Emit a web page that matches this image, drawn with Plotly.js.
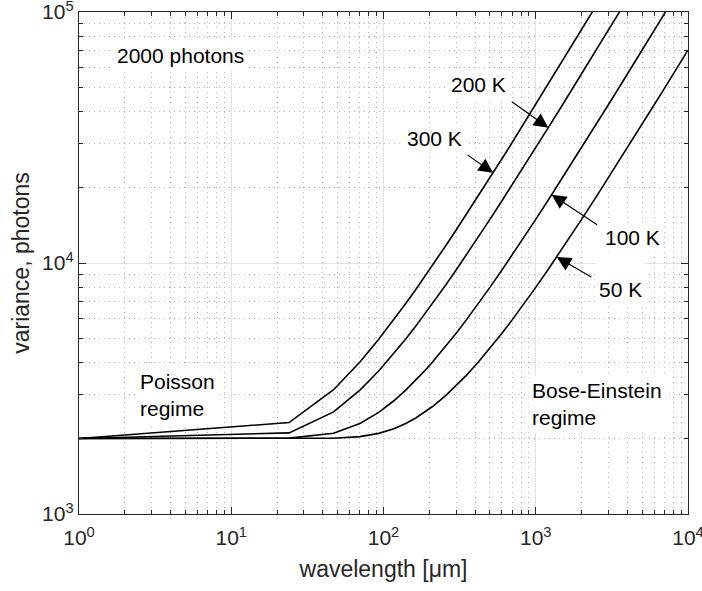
<!DOCTYPE html>
<html>
<head>
<meta charset="utf-8">
<script src="https://cdn.plot.ly/plotly-3.0.1.min.js"></script>
<style>html,body{margin:0;padding:0;background:#fff;}#chart{width:702px;height:591px;}</style>
</head>
<body>
<div id="chart"></div>
<script>
// wavelength samples [µm]
const wavelength = [1, 24, 47, 70, 93, 117, 140, 163, 187, 210, 257, 303, 350, 420, 500, 600, 700, 850, 1000, 1200, 1500, 2000, 2500, 3000, 4000, 5000, 6000, 7000, 8500, 10000];
// variance [photons] for 2000 photons at each temperature
const var300K = [2000, 2314, 3127, 4032, 4964, 5947, 6895, 7846, 8840, 9794, 11749, 13662, 15618, 18534, 21867, 26034, 30202, 36456, 42709, 51048, 63557, 84407, 105257, 126104, 167806, 209507, 251209, 292910, 355462, 418014];
const var200K = [2000, 2105, 2552, 3114, 3713, 4354, 4978, 5605, 6263, 6895, 8191, 9463, 10765, 12705, 14924, 17701, 20478, 24645, 28813, 34371, 42709, 56608, 70507, 84407, 112207, 140007, 167808, 195608, 237308, 279010];
const var100K = [2000, 2005, 2098, 2294, 2541, 2826, 3114, 3411, 3726, 4032, 4665, 5291, 5934, 6895, 7998, 9380, 10765, 12844, 14924, 17701, 21867, 28813, 35761, 42709, 56608, 70507, 84407, 98307, 119157, 140007];
const var50K = [2000, 2000, 2004, 2033, 2095, 2187, 2294, 2413, 2547, 2681, 2969, 3262, 3568, 4032, 4571, 5250, 5934, 6964, 7998, 9380, 11457, 14924, 18395, 21867, 28813, 35761, 42709, 49659, 60083, 70507];

// tick labels
const xTickVals = [1, 10, 100, 1000, 10000];
const xTickText = ['10<sup>0</sup>', '10<sup>1</sup>', '10<sup>2</sup>', '10<sup>3</sup>', '10<sup>4</sup>'];
const yTickVals = [1000, 10000, 100000];
const yTickText = ['10<sup>3</sup>', '10<sup>4</sup>', '10<sup>5</sup>'];

// curve labels: text, text position (wavelength, variance), arrow tip (wavelength, variance)
const labelText = ['300 K', '200 K', '100 K', '50 K'];
const labelPos = [[216, 31400], [420, 51200], [4330, 12650], [3610, 7760]];
const arrowTip = [[524, 22870], [1209, 34620], [1272, 18700], [1373, 10576]];

// region labels
const regionText = ['2000 photons', 'Poisson<br>regime', 'Bose-Einstein<br>regime'];
const regionPos = [[1.67, 67200], [2.35, 2983], [889, 2754]];

// arrow tail offsets in pixels (layout only)
const arrowTail = [[-27, -19], [-38, -27], [47, 31], [36, 21]];

const series = [var300K, var200K, var100K, var50K];
const traces = series.map((v, i) => ({
  x: wavelength, y: v, type: 'scatter', mode: 'lines',
  line: {color: '#000000', width: 1.6}, name: labelText[i], showlegend: false,
  hoverinfo: 'skip'
}));

function minorVals(lo, hi) {
  const out = [];
  for (let d = lo; d < hi; d++) {
    for (let m = 2; m <= 9; m++) out.push(m * Math.pow(10, d));
  }
  return out;
}

const axisColor = '#262626';
const fontFam = '"Liberation Sans", Arial, Helvetica, sans-serif';
const annFont = {family: fontFam, size: 21, color: '#000000'};

const annotations = [];
labelText.forEach((t, i) => {
  const a = {
    x: Math.log10(labelPos[i][0]), y: Math.log10(labelPos[i][1]), xref: 'x', yref: 'y',
    text: t, showarrow: false, bgcolor: '#ffffff', borderpad: 3,
    font: annFont, xanchor: 'center', yanchor: 'middle'
  };
  if (t === '50 K') {
    // taller white box (hides the 10^4 grid line above the label, as in the reference)
    a.height = 44; a.valign = 'bottom'; a.yanchor = 'bottom';
    a.yshift = -14;
  }
  annotations.push(a);
  annotations.push({
    x: Math.log10(arrowTip[i][0]), y: Math.log10(arrowTip[i][1]), xref: 'x', yref: 'y',
    text: '', showarrow: true, ax: arrowTail[i][0], ay: arrowTail[i][1],
    arrowhead: 2, arrowsize: 2.4, arrowwidth: 1.2, arrowcolor: '#000000'
  });
});
regionText.forEach((t, i) => {
  annotations.push({
    x: Math.log10(regionPos[i][0]), y: Math.log10(regionPos[i][1]), xref: 'x', yref: 'y',
    text: t, showarrow: false, bgcolor: '#ffffff', borderpad: 3, align: 'left',
    font: annFont, xanchor: 'left', yanchor: 'middle'
  });
});

const commonAxis = {
  type: 'log', ticks: 'inside', ticklen: 7, tickwidth: 1, tickcolor: axisColor,
  showline: true, linecolor: axisColor, linewidth: 1.2, mirror: 'ticks',
  showgrid: true, gridcolor: '#e2e2e2', gridwidth: 1, zeroline: false,
  tickfont: {family: fontFam, size: 21, color: axisColor},
  tickmode: 'array', ticklabeloverflow: 'allow'
};

const minorCommon = {tickmode: 'array', ticks: 'inside', ticklen: 4, tickcolor: axisColor,
  showgrid: true, gridcolor: '#b4b4b4', griddash: '1px,4px', gridwidth: 1};

const layout = {
  width: 702, height: 591,
  margin: {l: 79, r: 14, t: 12, b: 77},
  paper_bgcolor: '#ffffff', plot_bgcolor: '#ffffff',
  font: {family: fontFam, color: axisColor},
  xaxis: Object.assign({}, commonAxis, {
    range: [-0.000001, 4.000001], tickvals: xTickVals, ticktext: xTickText,
    ticklabelstandoff: 5,
    minor: Object.assign({}, minorCommon, {tickvals: minorVals(0, 4)}),
    title: {text: 'wavelength [μm]', font: {family: fontFam, size: 23, color: axisColor}, standoff: 12}
  }),
  yaxis: Object.assign({}, commonAxis, {
    range: [2.999999, 5.000001], tickvals: yTickVals, ticktext: yTickText,
    minor: Object.assign({}, minorCommon, {tickvals: minorVals(3, 5)}),
    title: {text: 'variance, photons', font: {family: fontFam, size: 23, color: axisColor}, standoff: 6}
  }),
  annotations: annotations
};

Plotly.newPlot('chart', traces, layout, {displayModeBar: false, staticPlot: true});
</script>
</body>
</html>
